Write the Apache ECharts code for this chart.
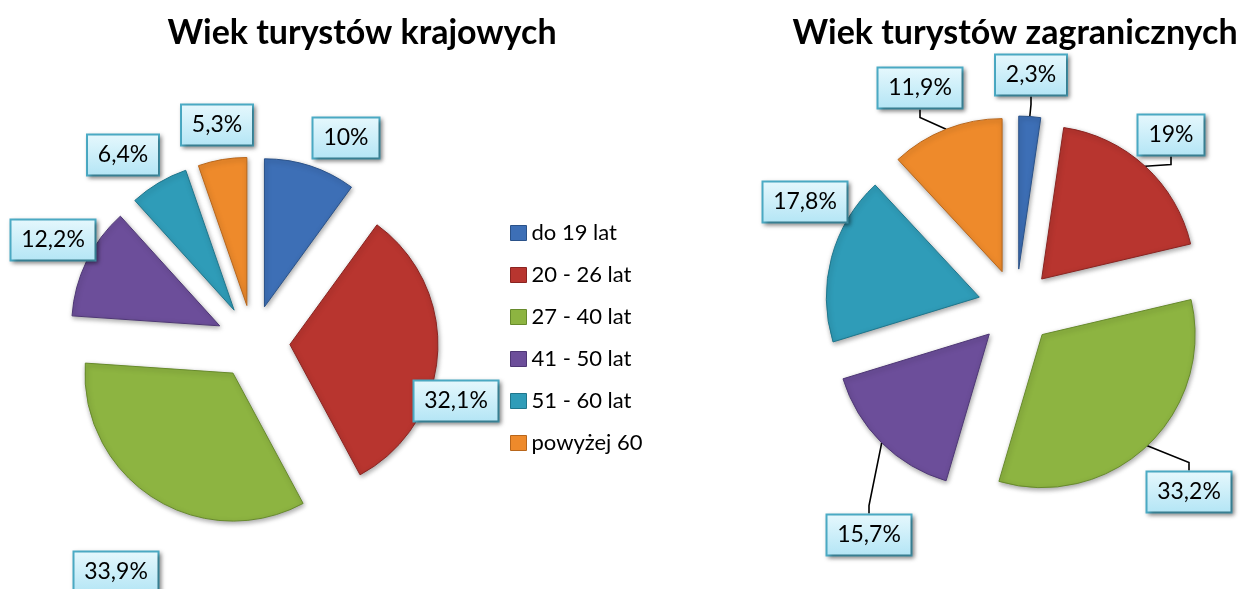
<!DOCTYPE html>
<html>
    <head>
        <meta charset="utf-8">
        <title>Wiek turystów</title>
        <script src="https://cdn.jsdelivr.net/npm/echarts@6/dist/echarts.min.js"></script>
        <style>
            html, body { margin: 0; padding: 0; background: #fff; }
            #chart { width: 1243px; height: 589px; }
        </style>
    </head>
    <body>
        <div id="chart"></div>
        <script type="text/javascript">
            // kategorie wiekowe
            var categories = ['do 19 lat', '20 - 26 lat', '27 - 40 lat', '41 - 50 lat', '51 - 60 lat', 'powyżej 60'];
            // udział procentowy
            var krajowi = [10, 32.1, 33.9, 12.2, 6.4, 5.3];
            var zagraniczni = [2.3, 19, 33.2, 15.7, 17.8, 11.9];
            var titles = ['Wiek turystów krajowych', 'Wiek turystów zagranicznych'];

            var colors = ['#3d6fb6', '#b8352f', '#8db441', '#6c4e9a', '#2f9cb8', '#ee8a2b'];
            var borders = ['#2a5289', '#8a2421', '#678a2c', '#4e3775', '#1f768c', '#b8661b'];

            // pozycje etykiet (środek ramki)
            var labelPosLeft = [[346, 138], [456, 401], [116, 572], [53, 240], [123, 155], [217, 125]];
            var labelPosRight = [[1031, 75], [1171, 135], [1189, 492], [869, 535], [805, 202], [920, 88]];

            var LABEL_FONT = 23;
            var measureCtx = document.createElement('canvas').getContext('2d');
            measureCtx.font = LABEL_FONT + 'px Lato';

            var myChart = echarts.init(document.getElementById('chart'));

            function fmt(v) {
                return String(v).replace('.', ',') + '%';
            }

            // przesunięcie wysuniętego wycinka wzdłuż jego środkowego kąta
            function explode(values, k, dist) {
                var total = values.reduce(function (a, b) { return a + b; }, 0);
                var before = 0;
                for (var i = 0; i < k; i++) before += values[i];
                var mid = (90 - (before + values[k] / 2) / total * 360) * Math.PI / 180;
                return [dist * Math.cos(mid), -dist * Math.sin(mid)];
            }

            function boxLabel(text) {
                return {
                    show: true,
                    formatter: function (p) { return fmt(p.value); },
                    width: Math.ceil(measureCtx.measureText(text).width) + 1,
                    align: 'center',
                    color: '#000',
                    fontFamily: 'Lato',
                    fontSize: LABEL_FONT,
                    lineHeight: 23,
                    padding: [8, 9, 8, 9],
                    backgroundColor: new echarts.graphic.LinearGradient(0, 0, 0, 1, [
                        { offset: 0, color: '#e6f8fd' },
                        { offset: 1, color: '#b3e5f5' }
                    ]),
                    borderColor: '#4bacc6',
                    borderWidth: 2,
                    shadowBlur: 4,
                    shadowColor: 'rgba(0,0,0,0.35)',
                    shadowOffsetX: 2,
                    shadowOffsetY: 2
                };
            }

            // jedna seria na wycinek, żeby każdy mógł być wysunięty osobno
            function pieSlices(name, values, center, r, dist, labelPos, withLines) {
                return values.map(function (val, k) {
                    var off = explode(values, k, dist);
                    return {
                        name: name,
                        type: 'pie',
                        center: [center[0] + off[0], center[1] + off[1]],
                        radius: [0, r],
                        startAngle: 90,
                        clockwise: true,
                        avoidLabelOverlap: false,
                        emphasis: { disabled: true },
                        labelLine: { length: 8, length2: 8, lineStyle: { color: '#000', width: 1.6 } },
                        labelLayout: function (p) {
                            if (p.dataIndex !== k) return;
                            var xy = labelPos[k];
                            return { x: xy[0], y: xy[1], align: 'center', verticalAlign: 'middle' };
                        },
                        data: values.map(function (v, i) {
                            if (i !== k) {
                                return {
                                    name: categories[i], value: v,
                                    itemStyle: { color: 'rgba(0,0,0,0)', borderWidth: 0 },
                                    label: { show: false }, labelLine: { show: false }
                                };
                            }
                            return {
                                name: categories[i], value: v,
                                itemStyle: {
                                    color: colors[i], borderColor: borders[i], borderWidth: 1,
                                    shadowBlur: 5, shadowColor: 'rgba(0,0,0,0.35)',
                                    shadowOffsetX: 1, shadowOffsetY: 2
                                },
                                label: boxLabel(fmt(v)),
                                labelLine: { show: withLines[i] }
                            };
                        })
                    };
                });
            }

            var series = []
                .concat(pieSlices(titles[0], krajowi, [253, 342], 148, 37, labelPosLeft,
                    [false, false, false, false, false, false]))
                .concat(pieSlices(titles[1], zagraniczni, [1016, 307], 153, 38, labelPosRight,
                    [true, true, true, true, false, true]));

            myChart.setOption({
                animation: false,
                graphic: [
                    { type: 'text', x: 362, y: 33, style: { text: titles[0], font: 'bold 34px Lato', fill: '#000', align: 'center', verticalAlign: 'middle' } },
                    { type: 'text', x: 1015, y: 33, style: { text: titles[1], font: 'bold 34px Lato', fill: '#000', align: 'center', verticalAlign: 'middle' } }
                ],
                legend: {
                    orient: 'vertical',
                    left: 510,
                    top: 222,
                    icon: 'rect',
                    itemWidth: 16,
                    itemHeight: 15,
                    itemGap: 20,
                    padding: 0,
                    selectedMode: false,
                    textStyle: { fontFamily: 'Lato', fontSize: 22, color: '#000' },
                    data: categories.map(function (c, i) {
                        return { name: c, itemStyle: { color: colors[i], borderColor: borders[i], borderWidth: 1 } };
                    })
                },
                series: series
            });
        </script>
    </body>
</html>
